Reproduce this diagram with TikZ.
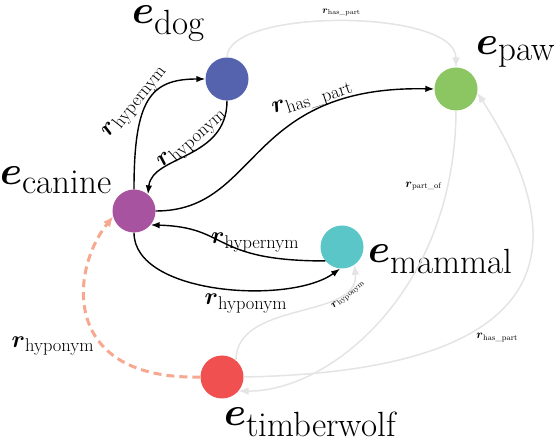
\RequirePackage{fix-cm}
\documentclass[tikz,border=0pt]{standalone}
\usepackage{amsmath}
\usepackage{xcolor}
\usetikzlibrary{arrows.meta}
\definecolor{dogblue}{RGB}{85,99,174}
\definecolor{pawgreen}{RGB}{139,198,99}
\definecolor{caninepurple}{RGB}{167,83,160}
\definecolor{mammalteal}{RGB}{90,198,200}
\definecolor{wolfred}{RGB}{240,80,80}
\definecolor{salmon}{RGB}{247,168,143}
\definecolor{faintgrey}{RGB}{228,228,228}
\newcommand{\pEnt}[1]{\fontsize{40}{46}\selectfont$\boldsymbol{e}_{\mbox{\fontsize{35}{40}\selectfont #1}}$}
\newcommand{\pRel}[1]{\fontsize{24}{28}\selectfont$\boldsymbol{r}_{\mbox{\fontsize{18.5}{22}\selectfont #1}}$}
\newcommand{\pRelTiny}[2][12]{\fontsize{#1}{14}\selectfont$\boldsymbol{r}_{\text{#2}}$}

\begin{document}
\begin{tikzpicture}[x=1pt,y=-1pt,
  ent/.style={circle, minimum size=43pt, inner sep=0pt},
  hardrel/.style={line width=1.4pt, -{Latex[length=9pt,width=6.5pt]}},
  softrel/.style={draw=faintgrey, line width=1.5pt, -{Latex[length=10pt,width=8pt]}},
  guessrel/.style={draw=salmon, line width=3pt, dash pattern=on 8pt off 5pt, -{Latex[length=10pt,width=9pt]}},
  lbl/.style={inner sep=1.5pt}]
\useasboundingbox (0,0) rectangle (560,438);
\node[ent, fill=dogblue] (dog) at (227,79) {};
\node[ent, fill=pawgreen] (paw) at (456,89) {};
\node[ent, fill=caninepurple] (canine) at (134,211) {};
\node[ent, fill=mammalteal] (mammal) at (342,247) {};
\node[ent, fill=wolfred] (wolf) at (222,377) {};
\node[anchor=base west, inner sep=0pt] (dog-lbl) at (132,24) {\pEnt{dog}};
\node[anchor=base west, inner sep=0pt] (paw-lbl) at (476,55) {\pEnt{paw}};
\node[anchor=base west, inner sep=0pt] (canine-lbl) at (0,185) {\pEnt{canine}};
\node[anchor=base west, inner sep=0pt] (mammal-lbl) at (368,263) {\pEnt{mammal}};
\node[anchor=base west, inner sep=0pt] (wolf-lbl) at (224,426) {\pEnt{timberwolf}};
\draw[softrel] (dog.north) .. controls (227,8) and (456,8) .. (paw.north) node[lbl, pos=0.5, above=3pt] {\pRelTiny[10]{has\_part}};
\draw[softrel] (paw.south) .. controls (455,290) and (330,392) .. (wolf.-40) node[lbl, pos=0.15, left=4pt] {\pRelTiny{part\_of}};
\draw[softrel] (wolf.east) .. controls (625,370) and (540,190) .. (paw.-10) node[lbl, pos=0.3, below right] {\pRelTiny{has\_part}};
\draw[softrel] (wolf.50) .. controls (236,300) and (360,320) .. (mammal.-55) node[lbl, pos=0.8, sloped, below] {\pRelTiny[11]{hyponym}};
\draw[hardrel] (canine.north) .. controls (134,100) and (150,79) .. (dog.west) node[lbl, pos=0.42, rotate=52, anchor=south] {\pRel{hypernym}};
\draw[hardrel] (dog.south) .. controls (227,160) and (152,155) .. (canine.50) node[lbl, pos=0.4, rotate=42, anchor=south] {\pRel{hyponym}};
\draw[hardrel] (canine.east) .. controls (260,211) and (245,85) .. (paw.west) node[lbl, pos=0.72, rotate=18, anchor=south] {\pRel{has\_part}};
\draw[hardrel] (mammal.220) .. controls (210,261) and (230,227) .. (canine.-40) node[lbl, pos=0.28, above] {\pRel{hypernym}};
\draw[hardrel] (canine.south) .. controls (134,295) and (290,305) .. (mammal.-95) node[lbl, pos=0.6, below=2pt] {\pRel{hyponym}};
\draw[guessrel] (wolf.west) .. controls (60,380) and (70,270) .. (canine.195) node[lbl, pos=0.35, left=6pt] {\pRel{hyponym}};
\end{tikzpicture}
\end{document}
